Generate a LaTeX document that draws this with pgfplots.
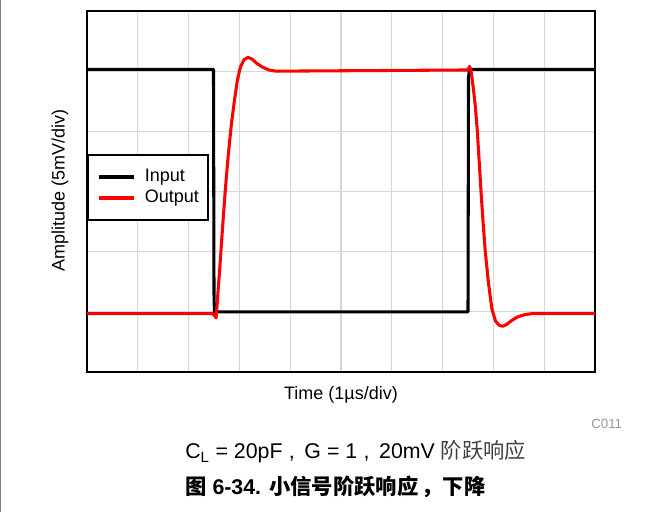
\documentclass[border=0pt]{standalone}
\usepackage{fontspec}
\setmainfont{Liberation Sans}
\newfontfamily\cjk{Noto Sans CJK SC}
\usepackage{pgfplots}
\pgfplotsset{compat=1.18}
\definecolor{gridgray}{RGB}{215,215,215}
\definecolor{tracered}{RGB}{255,0,0}
\begin{document}
\begin{tikzpicture}
\begin{axis}[
  at={(65.25pt,-279pt)}, anchor=south west,
  scale only axis, width=381pt, height=270.75pt,
  xmin=0, xmax=10, ymin=0, ymax=6,
  xtick={0,...,10}, ytick={0,...,6},
  xticklabels={}, yticklabels={},
  major tick length=0pt,
  grid=major, major grid style={gridgray, line width=0.9pt},
  axis line style={line width=2.2pt},
  legend cell align=left,
  legend image code/.code={\draw[#1] (0pt,0pt) -- (26.25pt,0pt);},
  legend style={at={(0,0.604)}, anchor=north west, draw=black, line width=1.6pt,
    fill=white, inner xsep=7pt, inner ysep=10pt,
    font=\fontsize{13.5}{16}\selectfont, row sep=2.75pt,
    nodes={inner sep=0pt, text height=10pt, text depth=3pt},
    /tikz/every odd column/.append style={column sep=7pt}},
]
\addplot[black, line width=2.3pt, line join=round] coordinates {
(0,5.03) (2.49,5.03) (2.50,1.3) (2.51,0.95) (2.54,1.0) (7.50,1.0) (7.51,4.9) (7.53,5.03) (10,5.03)
};
\addlegendentry{Input}
\addplot[tracered, line width=2.3pt, line join=round] coordinates {
(0,0.97) (2.47,0.97) (2.52,0.93) (2.54,0.9) (2.56,1.1) (2.58,1.35) (2.62,1.8) (2.66,2.3)
(2.72,3.0) (2.78,3.6) (2.84,4.1) (2.90,4.5) (2.96,4.85) (3.02,5.07) (3.09,5.19) (3.17,5.23)
(3.25,5.2) (3.34,5.13) (3.45,5.07) (3.58,5.02) (3.72,5.0) (7.50,5.02) (7.53,5.08) (7.56,5.0)
(7.60,4.75) (7.64,4.45) (7.68,4.05) (7.72,3.5) (7.76,2.95) (7.80,2.45) (7.84,2.0) (7.90,1.5)
(7.97,1.05) (8.04,0.85) (8.11,0.78) (8.18,0.76) (8.26,0.79) (8.35,0.85) (8.46,0.91) (8.6,0.95)
(8.75,0.97) (10,0.97)
};
\addlegendentry{Output}
\end{axis}
\begin{scope}[x=0.75pt,y=-0.75pt]
\path[use as bounding box] (0,0) rectangle (663,512);
\draw[gray, line width=1.2pt] (0.6,0) -- (0.6,512);
\node[font=\fontsize{13.5}{16}\selectfont] at (341,395) {Time (1µs/div)};
\node[rotate=90, font=\fontsize{13.5}{16}\selectfont] at (60,190.5) {Amplitude (5mV/div)};
\node[anchor=west, text=black!40, font=\fontsize{10}{12}\selectfont, inner sep=0pt] at (591,424) {C011};
\node[anchor=west, inner sep=0pt, font=\fontsize{16}{19}\selectfont] at (185,452) {C\textsubscript{L} = 20pF\hspace{0.3em},\hspace{0.45em}G = 1\hspace{0.3em},\hspace{0.45em}20mV {\cjk\color{black!75}阶跃响应}};
\node[anchor=west, inner sep=0pt, font=\bfseries\fontsize{16}{19}\selectfont] at (185,487) {{\cjk 图} 6-34. {\cjk 小信号阶跃响应\hspace{0.15em}，下降}};
\end{scope}
\end{tikzpicture}
\end{document}
